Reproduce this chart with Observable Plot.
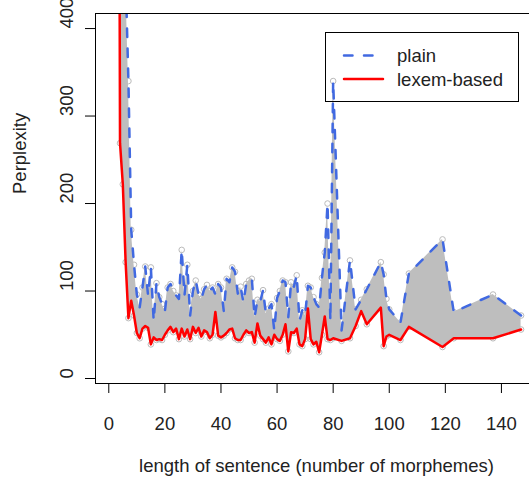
<!DOCTYPE html>
<html><head><meta charset="utf-8">
<script src="https://cdn.jsdelivr.net/npm/d3@7"></script>
<script src="https://cdn.jsdelivr.net/npm/@observablehq/plot@0.6"></script>
<style>
html,body{margin:0;padding:0;background:#fff;overflow:hidden;}
#chart svg{display:block;}
</style></head><body><div id="chart"></div>
<script>
const lengths = [1,2,3,4,5,6,7,8,9,10,11,12,13,14,15,16,17,18,19,20,21,22,23,24,25,26,27,28,29,30,31,32,33,34,35,36,37,38,39,40,41,42,43,44,45,46,47,48,49,50,51,52,53,54,55,56,57,58,59,60,61,62,63,64,65,66,67,68,69,70,71,72,73,74,75,76,77,78,79,80,83,86,88,90,92,97,98,99,100,104,107,119,123,137,147];
const plain = [2000,1500,1000,700,550,460,340,170,130,96,81,104,128,95,127,66,109,93,85,77,104,108,100,95,91,147,95,130,72,100,112,96,91,102,107,100,104,96,108,104,77,114,110,127,122,97,105,87,108,112,114,70,90,88,101,74,80,85,55,92,100,112,110,70,110,105,118,66,78,72,106,104,93,85,81,115,144,200,66,340,55,135,79,90,102,133,119,91,79,64,120,159,76,96,72];
const lexem = [5000,3000,1500,269,222,133,69,89,72,52,46,57,60,58,39,47,44,45,44,50,55,59,53,57,45,57,48,56,45,59,52,58,48,55,53,46,50,76,49,47,49,52,56,57,46,44,44,50,55,52,53,41,63,49,45,41,47,39,50,45,43,50,62,31,53,52,57,39,37,45,80,45,39,42,30,50,71,45,44,46,43,46,60,77,62,81,37,48,50,44,59,36,46,46,56];
const xTicks = [0,20,40,60,80,100,120,140];
const yTicks = [0,100,200,300,400];
const seriesNames = ["plain","lexem-based"];
const seriesColors = ["#4169e1","#ff0000"];
const xLabel = "length of sentence (number of morphemes)";
const yLabel = "Perplexity";

const rows = lengths.map((x,i)=>({x, plain: plain[i], lexem: lexem[i]}));
const FONT = "'Liberation Sans', Arial, sans-serif";
const fs = 18.5;

const chart = Plot.plot({
  width: 529, height: 477,
  marginLeft: 95, marginRight: -8, marginTop: 13, marginBottom: 94,
  x: {domain: [-4.74, 152.86], ticks: xTicks, tickSize: 10, tickFormat: () => "", label: null},
  y: {domain: [-5.7, 417.2], ticks: yTicks, tickSize: 10, tickFormat: () => "", label: null},
  style: {fontFamily: FONT, fontSize: fs + "px", background: "white", color: "black"},
  marks: [
    Plot.dot(rows, {x: "x", y: "plain", r: 2.8, stroke: "#bbbbbb", strokeWidth: 1, clip: true}),
    Plot.dot(rows, {x: "x", y: "lexem", r: 2.8, stroke: "#bbbbbb", strokeWidth: 1, clip: true}),
    Plot.areaY(rows, {x: "x", y1: "lexem", y2: "plain", fill: "#bebebe", clip: true}),
    Plot.line(rows, {x: "x", y: "plain", stroke: seriesColors[0], strokeWidth: 2.5, strokeDasharray: "8.5,11.5", strokeLinecap: "round", strokeLinejoin: "round", clip: true}),
    Plot.line(rows, {x: "x", y: "lexem", stroke: seriesColors[1], strokeWidth: 2.5, strokeLinecap: "round", strokeLinejoin: "round", clip: true}),
    Plot.frame({stroke: "black", strokeWidth: 1}),
    Plot.text(xTicks, {x: d => d, frameAnchor: "bottom", lineAnchor: "bottom", dy: 46, text: d => String(d), fill: "#222"}),
    Plot.text(yTicks, {y: d => d, frameAnchor: "left", rotate: -90, lineAnchor: "bottom", dx: -23, text: d => String(d), fill: "#222"}),
    Plot.text([xLabel], {frameAnchor: "bottom", lineAnchor: "bottom", dy: 88, text: d => d, fill: "#222"}),
    Plot.text([yLabel], {frameAnchor: "left", rotate: -90, lineAnchor: "bottom", dx: -70, dy: -4.5, text: d => d, fill: "#222"})
  ]
});
document.getElementById("chart").appendChild(chart);

// legend (inside plot, top right)
const svg = d3.select(chart);
const lg = svg.append("g").attr("font-family", FONT).attr("font-size", fs).attr("text-anchor", "start");
lg.append("rect").attr("x", 325.5).attr("y", 32.5).attr("width", 193).attr("height", 69)
  .attr("fill", "none").attr("stroke", "black").attr("stroke-width", 1);
seriesNames.forEach((name, i) => {
  const y = 55.5 + i * 23.5;
  lg.append("line").attr("x1", 344).attr("x2", 383).attr("y1", y).attr("y2", y)
    .attr("stroke", seriesColors[i]).attr("stroke-width", 2.5)
    .attr("stroke-linecap", "round")
    .attr("stroke-dasharray", i === 0 ? "8.5,11.5" : null);
  lg.append("text").attr("x", 397).attr("y", y + 6.5).attr("fill", "#222")
    .attr("text-anchor", "start").text(name);
});
</script>
</body></html>
